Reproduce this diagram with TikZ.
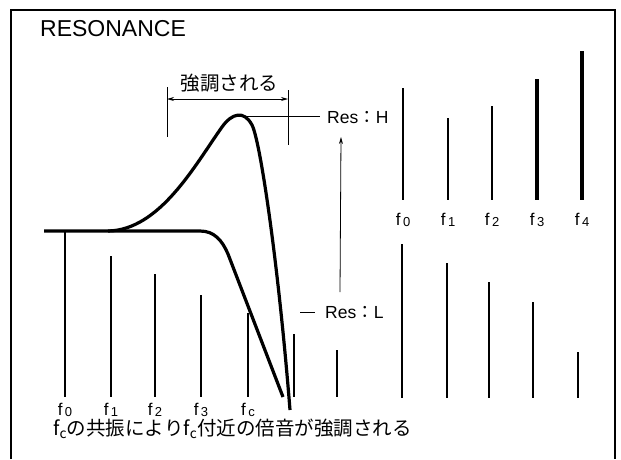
\documentclass[tikz,border=0pt]{standalone}
\usepackage{fontspec}
\setmainfont{Liberation Sans}
\newfontfamily\jpfont{Noto Sans CJK JP}
\usetikzlibrary{arrows.meta}
\newcommand{\fsub}[1]{f\hspace{2.5pt}\raisebox{-1.5pt}{\fontsize{13}{14}\selectfont #1}}

\begin{document}
\begin{tikzpicture}[x=1pt,y=-1pt,
  curve/.style={line width=3.2pt},
  harm/.style={line width=2.4pt},
  thinline/.style={line width=0.8pt},
  tip/.style={-{Stealth[length=7pt,width=4pt]}},
  flab/.style={font=\fontsize{17}{19}\selectfont, inner sep=0pt, anchor=base},
  reslab/.style={font=\fontsize{17.5}{19}\selectfont, inner sep=0pt, anchor=base west},
  jp/.style={font=\fontsize{19.5}{21}\selectfont\jpfont, inner sep=0pt}]
  \useasboundingbox (0,0) rectangle (621,459);
  \draw[line width=1.4pt] (11,459) -- (11,10) -- (615,10) -- (615,459);
  \node[anchor=base west, font=\fontsize{23}{25}\selectfont, inner sep=0pt] (title) at (40,36) {RESONANCE};

  \draw[curve] (44,231) -- (200,231) .. controls (214,231) and (222,240) .. (228,254) -- (283,397);
  \draw[curve] (108,231) .. controls (160,230) and (195,165) .. (222,127)
    .. controls (232,113) and (244,110) .. (252,125)
    .. controls (260,140) and (278,260) .. (290,410);
  \coordinate (peakH) at (238,116);

  \foreach \x/\t/\lab in {65/232/0,111/256/1,155/274/2,201/295/3,248/313/c} {
    \draw[harm] (\x,\t) -- (\x,397);
    \node[flab] (fL-\lab) at (\x,415) {\fsub{\lab}};
  }
  \draw[harm] (294,334) -- (294,397);
  \draw[harm] (337,350) -- (337,397);

  \foreach \x/\t/\lab/\w in {403/88/0/1.6,448/118/1/1.8,492/106/2/2.6,537/79/3/3.2,582/51/4/3.8} {
    \draw[line width=\w pt] (\x,\t) -- (\x,200);
    \node[flab] (fH-\lab) at (\x,225) {\fsub{\lab}};
  }
  \foreach \x/\t in {402/244,447/263,489/282,533/302,578/352} {
    \draw[harm] (\x,\t) -- (\x,398);
  }

  \node[jp, anchor=base] (emph) at (229.5,90) {強調される};
  \coordinate (dimL) at (167,99);
  \coordinate (dimR) at (288,99);
  \draw[thinline] (167,87) -- (167,137);
  \draw[thinline] (288,90) -- (288,145);
  \draw[thinline, {Stealth[length=7pt,width=4pt]}-{Stealth[length=7pt,width=4pt]}] (dimL) -- (dimR);

  \node[reslab] (resH) at (327,123) {Res{\jpfont ：}H};
  \node[reslab] (resL) at (325,318) {Res{\jpfont ：}L};
  \draw[thinline, shorten >=7pt] (peakH) -- (resH.west |- peakH);
  \coordinate (dashL) at (300,312);
  \draw[thinline] (dashL) -- ++(15,0);
  \coordinate (arrLow) at (340,292);
  \coordinate (arrHigh) at (341,137);
  \draw[thinline, tip] (arrLow) -- (arrHigh);

  \node[jp, anchor=base west] (caption) at (53,435) {f\textsubscript{c}の共振によりf\textsubscript{c}付近の倍音が強調される};
\end{tikzpicture}
\end{document}
